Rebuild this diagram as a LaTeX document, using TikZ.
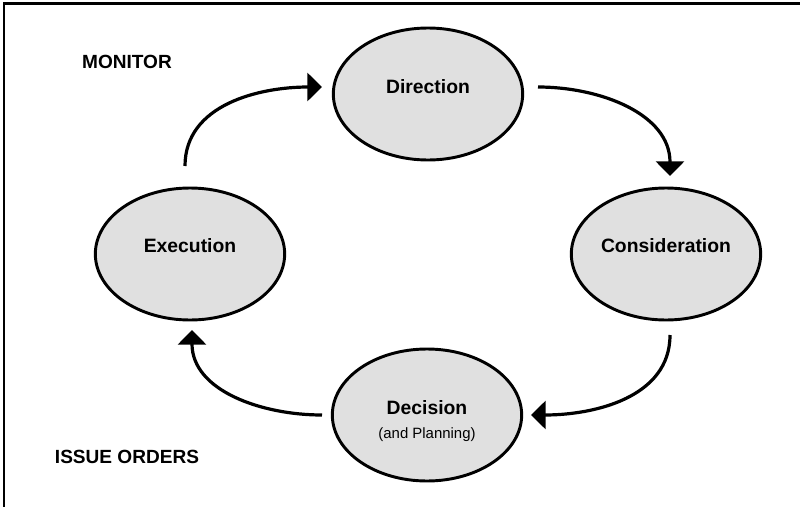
\documentclass[tikz,border=0pt]{standalone}
\usepackage{fontspec}
\setmainfont{Liberation Sans}
\usetikzlibrary{shapes.geometric,arrows.meta}
\definecolor{ellfill}{RGB}{224,224,224}
\tikzset{
  stage/.style={ellipse, draw=black, line width=2.2pt, fill=ellfill,
    minimum width=142pt, minimum height=99pt, inner sep=0pt},
  stagetext/.style={font=\bfseries\fontsize{14.5pt}{16pt}\selectfont, inner sep=0pt},
  subtext/.style={font=\fontsize{11.2pt}{13pt}\selectfont, inner sep=0pt},
  sidetext/.style={font=\bfseries\fontsize{14.3pt}{16pt}\selectfont, inner sep=0pt},
  cyc/.style={line width=2.4pt, -{Triangle[length=11pt,width=21pt]}},
  frameline/.style={line width=1.6pt}
}
\begin{document}
\begin{tikzpicture}[x=0.75pt,y=-0.75pt]
\useasboundingbox (0,0) rectangle (800,507);
% frame (top and left only)
\coordinate (ftr) at (800,3.5);
\coordinate (ftl) at (4,3.5);
\coordinate (fbl) at (4,507);
\draw[frameline] (ftr) -- (ftl) -- (fbl);
% stages
\node[stage] (dir) at (428,94) {};
\node[stage] (con) at (666,254) {};
\node[stage] (dec) at (427,415) {};
\node[stage] (exe) at (190,254) {};
\node[stagetext] (dirt) at (428,87) {Direction};
\node[stagetext] (cont) at (666,246) {Consideration};
\node[stagetext] (exet) at (190,246) {Execution};
\node[stagetext] (dect) at (427,408) {Decision};
\node[subtext] (decs) at (427,435) {(and Planning)};
% side labels
\node[sidetext] (mon) at (127,62) {MONITOR};
\node[sidetext] (iss) at (127,457) {ISSUE ORDERS};
% arrow end points
\coordinate (a1s) at (185,166);
\coordinate (a1e) at (322,87);
\coordinate (a2s) at (538,87);
\coordinate (a2e) at (670,176);
\coordinate (a3s) at (670,335);
\coordinate (a3e) at (531,415);
\coordinate (a4s) at (322,415);
\coordinate (a4e) at (192,330);
\draw[cyc] (a1s) to[out=90,in=180] (a1e);
\draw[cyc] (a2s) to[out=0,in=90] (a2e);
\draw[cyc] (a3s) to[out=-90,in=0] (a3e);
\draw[cyc] (a4s) to[out=180,in=-90] (a4e);
\end{tikzpicture}
\end{document}
